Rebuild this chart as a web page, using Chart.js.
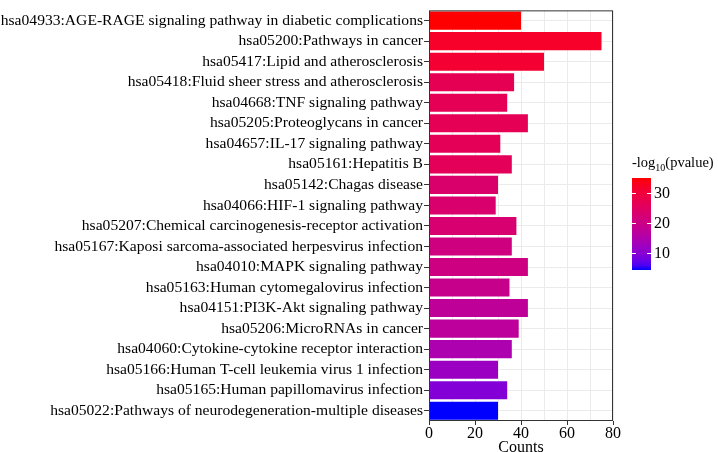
<!DOCTYPE html>
<html><head><meta charset="utf-8">
<script src="https://cdn.jsdelivr.net/npm/chart.js@4.4.0/dist/chart.umd.min.js"></script>
<style>html,body{margin:0;padding:0;background:#fff;}canvas{display:block;}</style>
</head><body>
<canvas id="c" width="718" height="452" style="width:718px;height:452px"></canvas>
<script>
const categories = [
  "hsa04933:AGE-RAGE signaling pathway in diabetic complications",
  "hsa05200:Pathways in cancer",
  "hsa05417:Lipid and atherosclerosis",
  "hsa05418:Fluid sheer stress and atherosclerosis",
  "hsa04668:TNF signaling pathway",
  "hsa05205:Proteoglycans in cancer",
  "hsa04657:IL-17 signaling pathway",
  "hsa05161:Hepatitis B",
  "hsa05142:Chagas disease",
  "hsa04066:HIF-1 signaling pathway",
  "hsa05207:Chemical carcinogenesis-receptor activation",
  "hsa05167:Kaposi sarcoma-associated herpesvirus infection",
  "hsa04010:MAPK signaling pathway",
  "hsa05163:Human cytomegalovirus infection",
  "hsa04151:PI3K-Akt signaling pathway",
  "hsa05206:MicroRNAs in cancer",
  "hsa04060:Cytokine-cytokine receptor interaction",
  "hsa05166:Human T-cell leukemia virus 1 infection",
  "hsa05165:Human papillomavirus infection",
  "hsa05022:Pathways of neurodegeneration-multiple diseases"
];
const counts = [40, 75, 50, 37, 34, 43, 31, 36, 30, 29, 38, 36, 43, 35, 43, 39, 36, 30, 34, 30];
const pvalues = [35, 32, 31, 26.8, 26.6, 26.5, 26.3, 26.1, 23.5, 23.2, 23, 20.8, 20.5, 19.2, 17.4, 17.1, 14.5, 12, 9.5, 4.3];
const xTickLabels = [0, 20, 40, 60, 80];
const legendTicks = [10, 20, 30];
const legendTitle = ["-log", "10", "(pvalue)"];
const axisTitle = "Counts";

// Lab interpolation blue -> red (like ggplot2 scale gradient)
function toLin(c){c/=255;return c<=0.04045?c/12.92:Math.pow((c+0.055)/1.055,2.4);}
function fromLin(c){c=Math.max(0,Math.min(1,c));return Math.round(255*(c<=0.0031308?12.92*c:1.055*Math.pow(c,1/2.4)-0.055));}
function rgb2lab(rgb){
  const r=toLin(rgb[0]),g=toLin(rgb[1]),b=toLin(rgb[2]);
  let X=(0.4124*r+0.3576*g+0.1805*b)/0.95047,Y=(0.2126*r+0.7152*g+0.0722*b),Z=(0.0193*r+0.1192*g+0.9505*b)/1.08883;
  const f=t=>t>0.008856?Math.cbrt(t):7.787*t+16/116;
  const fx=f(X),fy=f(Y),fz=f(Z);
  return [116*fy-16,500*(fx-fy),200*(fy-fz)];
}
function lab2rgb(lab){
  const fy=(lab[0]+16)/116,fx=fy+lab[1]/500,fz=fy-lab[2]/200;
  const fi=t=>t>0.206893?t*t*t:(t-16/116)/7.787;
  const X=fi(fx)*0.95047,Y=fi(fy),Z=fi(fz)*1.08883;
  const r=3.2406*X-1.5372*Y-0.4986*Z,g=-0.9689*X+1.8758*Y+0.0415*Z,b=0.0557*X-0.2040*Y+1.0570*Z;
  return [fromLin(r),fromLin(g),fromLin(b)];
}
const LOW=rgb2lab([0,0,255]),HIGH=rgb2lab([255,0,0]);
const vmin=Math.min(...pvalues),vmax=Math.max(...pvalues);
function colorFor(v){
  const t=(v-vmin)/(vmax-vmin);
  const c=lab2rgb([0,1,2].map(i=>LOW[i]+(HIGH[i]-LOW[i])*t));
  return `rgb(${c[0]},${c[1]},${c[2]})`;
}
const FONT="'Liberation Serif', 'Times New Roman', serif";

const framePlugin={
  id:'frame',
  afterDatasetsDraw(chart){
    const {ctx,chartArea:a}=chart;
    ctx.save();ctx.strokeStyle='#333';ctx.lineWidth=1;
    ctx.strokeRect(a.left+0.5,a.top+0.5,a.right-a.left-1,a.bottom-a.top-1);
    ctx.restore();
  }
};
const colorbarPlugin={
  id:'colorbar',
  afterDraw(chart){
    const ctx=chart.ctx;
    const x0=632,x1=651,yTop=178,yBot=270;
    ctx.save();
    ctx.fillStyle='#000';ctx.textBaseline='alphabetic';ctx.textAlign='left';
    ctx.font=`14.5px ${FONT}`;
    let x=632;const base=167;
    ctx.fillText(legendTitle[0],x,base);x+=ctx.measureText(legendTitle[0]).width;
    ctx.font=`10px ${FONT}`;
    ctx.fillText(legendTitle[1],x,base+4);x+=ctx.measureText(legendTitle[1]).width;
    ctx.font=`14.5px ${FONT}`;
    ctx.fillText(legendTitle[2],x,base);
    const grad=ctx.createLinearGradient(0,yBot,0,yTop);
    for(let i=0;i<=20;i++){grad.addColorStop(i/20,colorFor(vmin+(vmax-vmin)*i/20));}
    ctx.fillStyle=grad;ctx.fillRect(x0,yTop,x1-x0,yBot-yTop);
    ctx.strokeStyle='#fff';ctx.lineWidth=1;
    ctx.fillStyle='#000';ctx.font=`16px ${FONT}`;ctx.textBaseline='middle';
    legendTicks.forEach(v=>{
      const y=Math.round(yBot-(v-vmin)/(vmax-vmin)*(yBot-yTop))+0.5;
      ctx.beginPath();ctx.moveTo(x0,y);ctx.lineTo(x0+4,y);ctx.moveTo(x1-4,y);ctx.lineTo(x1,y);ctx.stroke();
      ctx.fillText(String(v),654,y);
    });
    ctx.restore();
  }
};

new Chart(document.getElementById('c'),{
  type:'bar',
  data:{labels:categories,datasets:[{data:counts,backgroundColor:pvalues.map(colorFor),borderWidth:0,barPercentage:0.88,categoryPercentage:1}]},
  options:{
    responsive:false,animation:false,indexAxis:'y',
    layout:{padding:{left:0,right:105,top:5,bottom:0}},
    plugins:{legend:{display:false},tooltip:{enabled:false}},
    scales:{
      x:{type:'linear',min:0,max:80,
        ticks:{stepSize:10,color:'#000',font:{family:FONT,size:16,lineHeight:1},padding:1,maxRotation:0,autoSkip:false,
          callback:v=>xTickLabels.includes(v)?String(v):''},
        grid:{color:'#EBEBEB',lineWidth:1,tickLength:4,tickColor:c=>(c.tick&&xTickLabels.includes(c.tick.value))?'#333':'rgba(0,0,0,0)'},
        border:{display:false},
        title:{display:true,text:axisTitle,color:'#000',font:{family:FONT,size:16,lineHeight:1},padding:{top:0,bottom:-4}},
        afterFit:s=>{s.height=31;}
      },
      y:{
        ticks:{color:'#000',font:{family:FONT,size:15.6},padding:1,autoSkip:false},
        grid:{color:'#EBEBEB',offset:false,tickLength:5,tickColor:'#333'},
        border:{display:false},
        afterFit:s=>{s.width=429;}
      }
    }
  },
  plugins:[framePlugin,colorbarPlugin]
});
</script>
</body></html>
